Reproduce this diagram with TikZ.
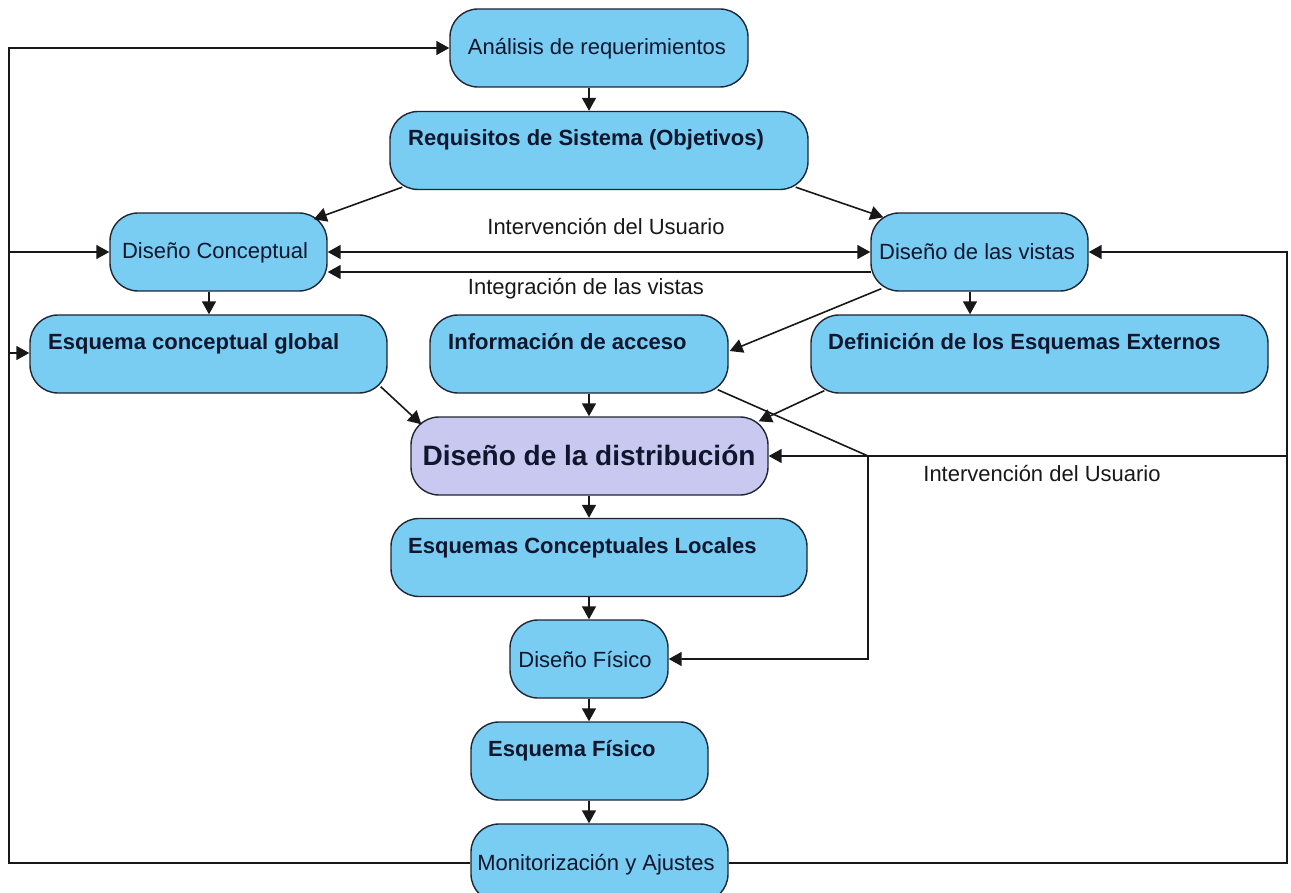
\documentclass[tikz,border=0pt]{standalone}
\usepackage{fontspec}
\setmainfont{Liberation Sans}
\usetikzlibrary{arrows.meta,calc}
\definecolor{boxblue}{RGB}{121,204,242}
\definecolor{boxlav}{RGB}{200,200,240}
\definecolor{boxline}{RGB}{30,38,52}
\definecolor{txtdark}{RGB}{16,22,44}
\definecolor{wire}{RGB}{24,24,24}
\tikzset{
  box/.style={draw=boxline, line width=1.4pt, fill=boxblue, rounded corners=28pt,
              inner sep=0pt, minimum width=#1, minimum height=78pt},
  txt/.style={anchor=base, text=txtdark, inner sep=0pt, font=\fontsize{22}{22}\selectfont},
  btxt/.style={anchor=base west, text=txtdark, inner sep=0pt, font=\fontsize{22}{22}\selectfont\bfseries},
  lbl/.style={anchor=base, text=wire, inner sep=0pt, font=\fontsize{22}{22}\selectfont},
  wireline/.style={draw=wire, line width=1.6pt},
  arr/.style={wireline, -{Triangle[length=13pt,width=14pt]}},
  darr/.style={wireline, {Triangle[length=13pt,width=14pt]}-{Triangle[length=13pt,width=14pt]}},
}
\begin{document}
\begin{tikzpicture}[x=1pt,y=-1pt]
\useasboundingbox (0,0) rectangle (1291,893);

% process boxes
\node[box=298pt] (ana) at (599,48) {};
\node[box=418pt] (req) at (599,150.5) {};
\node[box=217pt] (con) at (218.5,252) {};
\node[box=217pt] (vis) at (979.5,252) {};
\node[box=357pt] (esq) at (208.5,354) {};
\node[box=298pt] (inf) at (579,354) {};
\node[box=457pt] (def) at (1039.5,354) {};
\node[box=357pt, fill=boxlav] (dis) at (589.5,456) {};
\node[box=416pt] (loc) at (599,557.5) {};
\node[box=158pt] (fis) at (589,659) {};
\node[box=237pt] (esf) at (589.5,761) {};
\node[box=257pt] (mon) at (599.5,863) {};

% box texts
\node[txt] (tana) at (597,55) {Análisis de requerimientos};
\node[btxt] (treq) at (408,146) {Requisitos de Sistema (Objetivos)};
\node[txt] (tcon) at (215,259) {Diseño Conceptual};
\node[txt] (tvis) at (977,260) {Diseño de las vistas};
\node[btxt] (tesq) at (48,350) {Esquema conceptual global};
\node[btxt] (tinf) at (448,349) {Información de acceso};
\node[btxt] (tdef) at (828,349) {Definición de los Esquemas Externos};
\node[txt, font=\fontsize{28}{28}\selectfont\bfseries] (tdis) at (589,465) {Diseño de la distribución};
\node[btxt] (tloc) at (408,553) {Esquemas Conceptuales Locales};
\node[txt] (tfis) at (585,667) {Diseño Físico};
\node[btxt] (tesf) at (488,756) {Esquema Físico};
\node[txt] (tmon) at (596,870) {Monitorización y Ajustes};

% connector labels
\node[lbl] (l1) at (606,235) {Intervención del Usuario};
\node[lbl] (l2) at (586,295) {Integración de las vistas};
\node[lbl] (l3) at (1042,481) {Intervención del Usuario};

% routing points
\coordinate (spine) at (589,0);
\coordinate (lrail) at (9,0);
\coordinate (rrail) at (1287,0);
\coordinate (knee) at (868,456);

% main vertical chain
\draw[arr] (spine |- ana.south) -- (spine |- req.north);
\draw[arr] (spine |- inf.south) -- (spine |- dis.north);
\draw[arr] (spine |- dis.south) -- (spine |- loc.north);
\draw[arr] (spine |- loc.south) -- (spine |- fis.north);
\draw[arr] (spine |- fis.south) -- (spine |- esf.north);
\draw[arr] (spine |- esf.south) -- (spine |- mon.north);
\draw[arr] ($(con.south)+(-9.5,0)$) -- ($(esq.north)+(0.5,0)$);
\draw[arr] ($(vis.south)+(-9.5,0)$) -- ($(def.north)+(-69.5,0)$);

% diagonal flows
\draw[arr] ($(req.south west)+(13,-3)$) -- ($(con.north east)+(-14,7)$);
\draw[arr] ($(req.south east)+(-13,-3)$) -- ($(vis.north west)+(13,5)$);
\draw[arr] ($(vis.south west)+(11,-3)$) -- ($(inf.east)+(1,-3)$);
\draw[arr] ($(esq.south east)+(-7,-7)$) -- ($(dis.north west)+(11,8)$);
\draw[arr] ($(def.south west)+(14,-3)$) -- ($(dis.north east)+(-10,5)$);
\draw[arr] ($(inf.south east)+(-11,-4)$) -- (knee) -- (knee |- fis.east) -- (fis.east);

% links between conceptual design and views
\draw[darr] (con.east) -- (vis.west);
\draw[arr] ($(vis.west)+(1,20)$) -- ($(con.east)+(0,20)$);

% left feedback loop
\draw[arr] (mon.west) -- (lrail |- mon.west) -- (lrail |- ana.west) -- (ana.west);
\draw[arr] (lrail |- con.west) -- (con.west);
\draw[arr] ($(lrail |- esq.west)+(0,-1)$) -- ($(esq.west)+(0,-1)$);

% right feedback loop
\draw[arr] (mon.east) -- (rrail |- mon.east) -- (rrail |- vis.east) -- (vis.east);
\draw[arr] (rrail |- dis.east) -- (dis.east);
\end{tikzpicture}
\end{document}
